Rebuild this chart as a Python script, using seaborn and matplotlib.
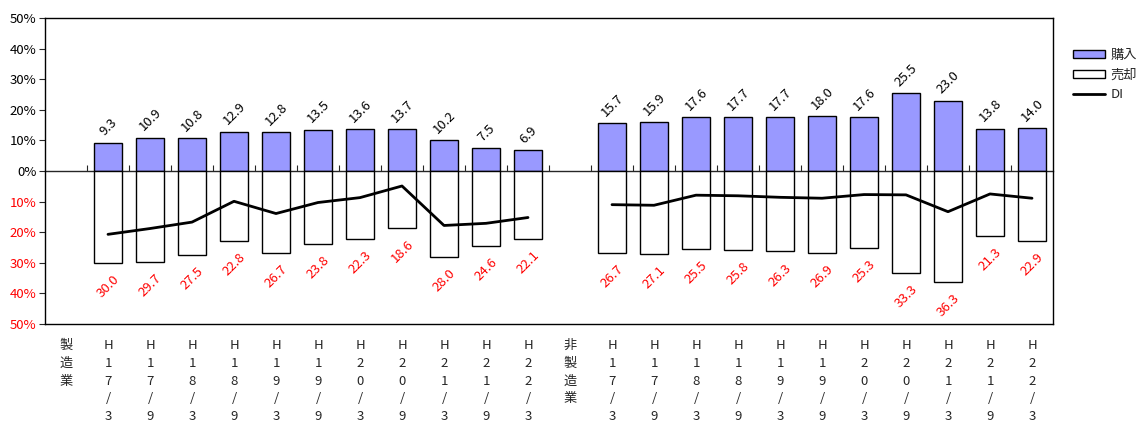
import matplotlib
matplotlib.use("Agg")
import matplotlib.pyplot as plt
import seaborn as sns
import pandas as pd
from matplotlib.patches import Patch
from matplotlib.lines import Line2D

# ---- data ----
periods = ["H17/3", "H17/9", "H18/3", "H18/9", "H19/3", "H19/9",
           "H20/3", "H20/9", "H21/3", "H21/9", "H22/3"]
groups = ["製造業", "非製造業"]
buy_mfg = [9.3, 10.9, 10.8, 12.9, 12.8, 13.5, 13.6, 13.7, 10.2, 7.5, 6.9]
sell_mfg = [30.0, 29.7, 27.5, 22.8, 26.7, 23.8, 22.3, 18.6, 28.0, 24.6, 22.1]
di_mfg = [-20.7, -18.8, -16.7, -9.9, -13.9, -10.3, -8.7, -4.9, -17.8, -17.1, -15.2]
buy_non = [15.7, 15.9, 17.6, 17.7, 17.7, 18.0, 17.6, 25.5, 23.0, 13.8, 14.0]
sell_non = [26.7, 27.1, 25.5, 25.8, 26.3, 26.9, 25.3, 33.3, 36.3, 21.3, 22.9]
di_non = [-11.0, -11.2, -7.9, -8.1, -8.6, -8.9, -7.7, -7.8, -13.3, -7.5, -8.9]
y_ticks = [-50, -40, -30, -20, -10, 0, 10, 20, 30, 40, 50]
legend_labels = ["購入", "売却", "DI"]

sns.set_style("white")
plt.rcParams["font.family"] = ["Noto Sans CJK JP", "DejaVu Sans"]

# ---- build table ----
rows = []
order = []
for g, buys, sells, dis in [(groups[0], buy_mfg, sell_mfg, di_mfg),
                            (groups[1], buy_non, sell_non, di_non)]:
    order.append(g)
    for p, b, s, d in zip(periods, buys, sells, dis):
        key = g + " " + p
        order.append(key)
        rows.append(dict(key=key, group=g, period=p, buy=b, sell=-s, di=d))
df = pd.DataFrame(rows)
pos = {k: i for i, k in enumerate(order)}
df["x"] = df["key"].map(pos)

fig = plt.figure(figsize=(11.39, 4.26), dpi=100)
ax = fig.add_axes([45 / 1139, 1 - 324 / 426, (1053 - 45) / 1139, (324 - 18) / 426])

sns.barplot(data=df, x="key", y="buy", order=order, color="#9999FF",
            edgecolor="black", linewidth=1.0, width=0.69, saturation=1, ax=ax)
sns.barplot(data=df, x="key", y="sell", order=order, color="white",
            edgecolor="black", linewidth=1.0, width=0.69, saturation=1, ax=ax)
for g in groups:
    sub = df[df["group"] == g]
    sns.lineplot(x=sub["x"].values, y=sub["di"].values, color="black",
                 linewidth=2.0, ax=ax, legend=False)

ax.set_ylim(-50, 50)
ax.set_xlim(-0.5, len(order) - 0.5)
ax.set_yticks(y_ticks)
ax.set_yticklabels([f"{abs(v)}%" for v in y_ticks], fontsize=9.5)
for lab, v in zip(ax.get_yticklabels(), y_ticks):
    lab.set_color("red" if v < 0 else "black")
ax.tick_params(axis="y", direction="out", length=4, width=0.8, left=True, pad=2)

# x tick labels (vertical characters)
xlabels = []
for k in order:
    if k in groups:
        xlabels.append("\n".join(k))
    else:
        xlabels.append("\n".join(k.split(" ")[1]))
ax.set_xticks(range(len(order)))
ax.set_xticklabels(xlabels, fontsize=9.5, va="top", linespacing=1.47)
ax.tick_params(axis="x", length=0, pad=11)
ax.set_xlabel("")
ax.set_ylabel("")

for sp in ax.spines.values():
    sp.set_visible(True)
    sp.set_color("black")
    sp.set_linewidth(1.0)

# zero axis with boundary ticks
sec = ax.secondary_xaxis(0.5)
sec.set_xticks([i + 0.5 for i in range(len(order) - 1)])
sec.set_xticklabels([])
sec.tick_params(direction="out", length=4, width=0.8)
for sp in sec.spines.values():
    sp.set_linewidth(1.0)

# value labels
for _, r in df.iterrows():
    ax.annotate(f"{r['buy']:.1f}", (r["x"], r["buy"]), xytext=(0, 3),
                textcoords="offset points", ha="center", va="bottom",
                rotation=45, fontsize=9.5, color="black")
    ax.annotate(f"{-r['sell']:.1f}", (r["x"], r["sell"]), xytext=(0, -7),
                textcoords="offset points", ha="center", va="top",
                rotation=45, fontsize=9.5, color="red")

handles = [Patch(facecolor="#9999FF", edgecolor="black", linewidth=1.0),
           Patch(facecolor="white", edgecolor="black", linewidth=1.0),
           Line2D([0], [0], color="black", linewidth=2.0)]
fig.legend(handles, legend_labels, loc="center left",
           bbox_to_anchor=(1068 / 1139, 1 - 75 / 426), frameon=False,
           fontsize=9.5, handlelength=2.4, handleheight=0.55,
           labelspacing=0.5, handletextpad=0.4, borderaxespad=0)

fig.savefig("out.png", dpi=100)
